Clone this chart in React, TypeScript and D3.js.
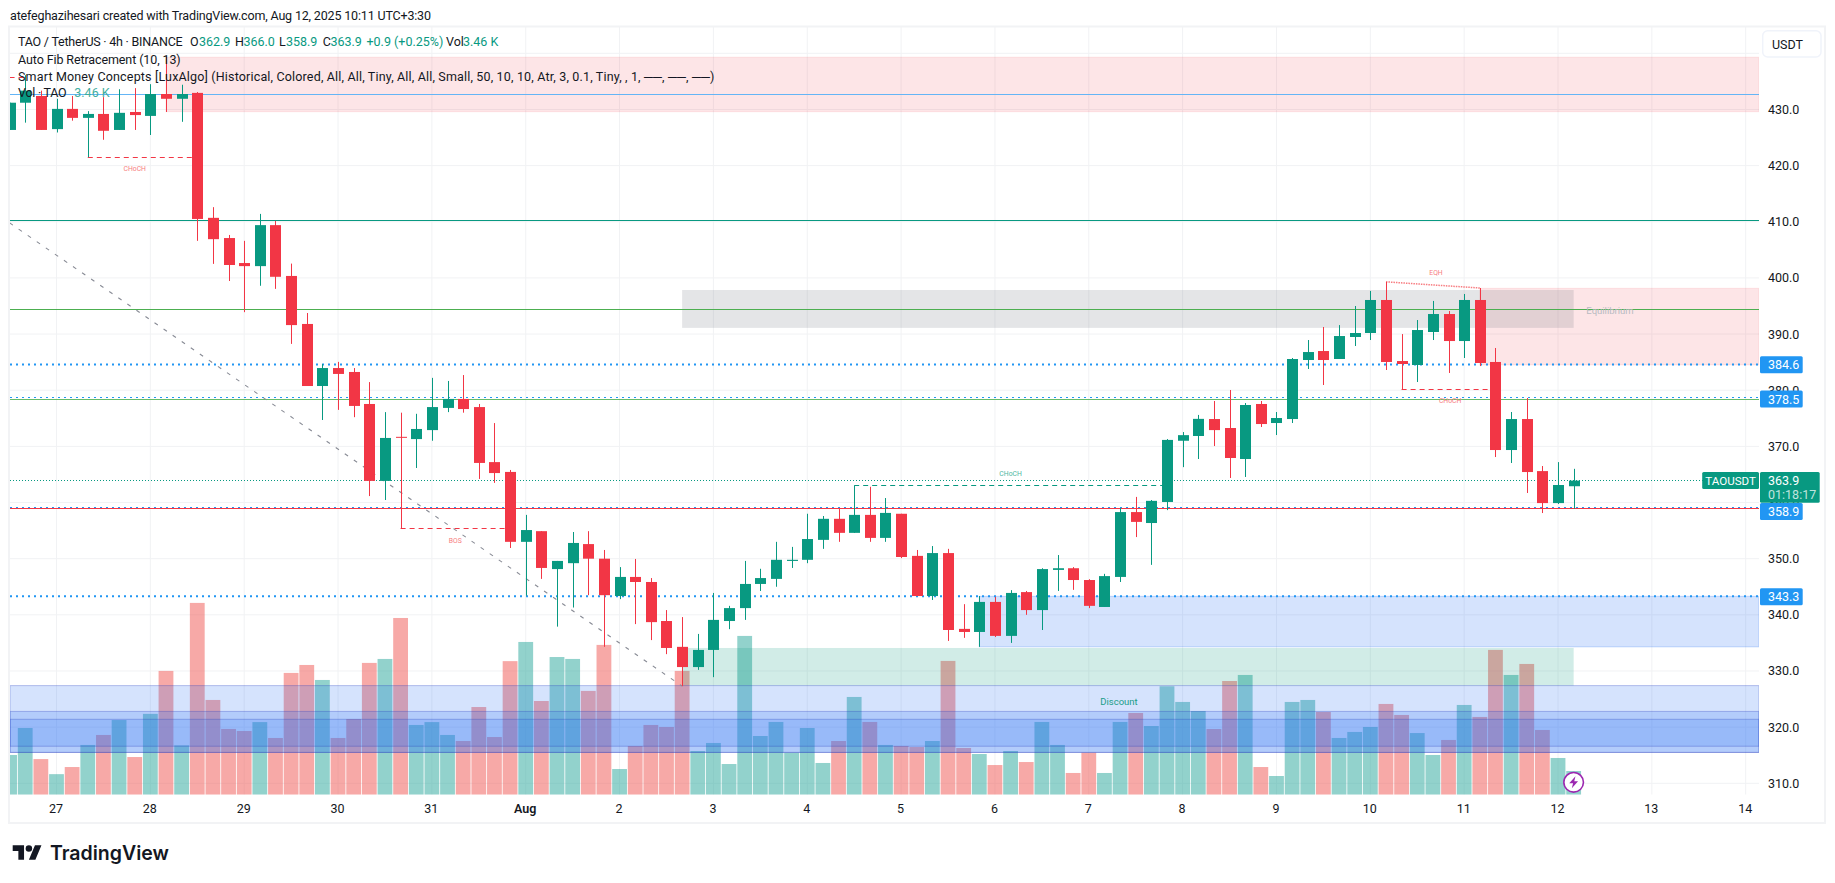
import * as d3 from 'd3'
import React, { useEffect, useRef } from 'react'

// 4h bars, first one is three bars before Jul 27 00:00
const firstBar = -3
const opens = [426.35,431.2,432.4,426.5,430.1,428.5,429.2,426.35,429.55,428.85,432.75,431.9,432.95,410.7,407.1,402.65,402.1,409.4,400.35,391.8,380.75,383.95,383.25,377.55,363.85,371.7,371.3,372.9,376.85,378.45,377,367.2,365.45,353,354.9,348.15,349.2,352.6,350,343.35,346.75,345.85,338.9,334.3,330.7,333.75,338.9,341.2,345.5,346.4,349.6,349.8,353.35,357.1,354.6,357.8,353.7,358,350.5,343.35,351,337.5,336.95,342.3,336.25,344.05,340.85,348,348.3,346.2,341.4,346.75,358.3,356.35,360.1,371,371.85,374.87,373.27,367.75,377.55,374.16,374.87,385.38,386.98,385.56,389.48,390.19,396.07,385.2,384.49,390.37,393.57,388.76,396.07,385.03,369.35,374.87,365.6,359.9,362.9]
const highs = [431.2,436.1,433.35,431.9,432.4,429.7,432.2,433.6,433.8,434.5,439.4,434.4,433.1,412.6,407.65,406.6,411.4,410.15,402.55,393.75,384.65,385.05,383.95,381.45,376.1,376,375.8,382.2,381.65,382.7,377.55,374.15,365.8,357.8,354.9,349.6,354.75,354.9,351.55,348.5,349.95,346.55,340.85,339.6,336.6,343.9,341.6,349.6,348.2,353,352.1,358,357.6,359,363,362.8,360.8,358,351.55,352.25,351.75,341.9,343.35,343.2,344.4,344.25,348.3,350.65,348.5,346.35,347.3,359,361,360.45,371.3,372.55,375.6,378.08,380.04,377.72,378.08,376.12,385.74,388.94,391.26,391.6,395,397.67,399.27,390,392.5,395.9,394.1,397.14,398.2,387.52,376.12,378.61,366.5,367.2,366]
const lows = [426.35,427.65,426.35,425.9,428,421.5,424.6,426.35,426.35,425.45,429.55,427.8,406.6,402.5,399.45,393.9,398.6,398.05,388.25,380.75,374.7,376.5,375.2,361.15,360.45,355.4,366.15,371,376.1,376,364.2,363.5,351.9,343.4,346.4,337.9,341.3,343.5,334.3,342.8,338.35,335.5,333,327.3,330.2,328.9,337.45,339.1,344.25,345,348.35,349.2,351.75,353,354.6,353,353,350.1,343.35,342.65,335.35,335.9,334.3,336.05,335,340,337.3,344.25,344.45,341.2,341.4,345.85,353.85,348.9,358.65,366.3,367.75,370.06,364.37,364.55,373.45,372.02,374.16,383.78,380.93,385.56,387.87,388.94,383.6,380.16,381.46,388.94,383.07,385.74,384.3,368.1,367.04,361.7,358.13,359.73,358.9]
const closes = [431.2,433.35,426.35,430.1,428.5,429.2,426.2,429.4,429,432.75,431.9,432.75,410.5,406.9,402.3,402.1,409.4,400.2,391.6,380.75,383.95,382.9,377.2,363.85,371.5,371.55,373.1,377,378.45,376.65,367.05,365.25,353,355.1,348.35,349.6,352.8,350,343.5,346.75,345.85,338.7,334.1,330.7,333.75,339.1,341.2,345.5,346.55,349.8,349.8,353.5,357.1,354.6,357.8,353.7,358.15,350.3,343.35,351,337.3,336.95,342.3,336.25,343.9,340.85,348.15,348.3,346.2,341.6,346.9,358.3,356.55,360.3,371.15,372,374.9,372.9,367.93,377.37,373.98,375.05,385.56,386.8,385.38,389.65,390.19,396.07,385.03,384.67,390.72,393.57,388.76,396.07,384.85,369.35,374.87,365.43,359.9,363.12,363.9]
const volumes = [5.8,9.74,5.2,3,4.04,7.26,8.72,10.9,5.5,11.8,18.07,7.2,28,13.83,9.6,9.3,10.6,8.28,17.78,18.94,16.75,8.28,11.05,19.24,19.82,25.8,10.18,10.6,8.72,7.84,12.8,8.42,19.5,22.3,13.68,20.1,19.82,15.15,21.87,3.75,7.11,10.18,9.89,18.07,6.38,7.55,4.48,23.18,8.57,10.62,6.14,9.74,4.63,7.84,14.27,10.62,7.26,7.11,6.96,7.84,19.53,6.82,5.94,4.33,6.38,4.77,10.62,7.26,3.17,6.14,3.17,10.62,11.93,10.03,15.83,13.54,12.22,9.59,16.6,17.48,4.04,2.73,13.54,13.83,12.08,8.28,9.16,9.89,13.25,11.64,9,5.8,7.99,13.1,11.35,21.14,17.48,19.09,9.45,5.36,3.46]

const dayLabels = ['27','28','29','30','31','Aug','2','3','4','5','6','7','8','9','10','11','12','13','14']
const priceTicks = [440,430,420,410,400,390,380,370,360,350,340,330,320,310]
const barsPerDay = 6

// [first bar or null for chart edge, last bar or null, top price, bottom price, kind]
const zones: [number | null, number | null, number, number, string][] = [
  [7, null, 439.3, 429.6, 'red'],
  [91, null, 398.15, 384.5, 'red'],
  [59, null, 343.3, 334.3, 'blue'],
  [40, 97, 334.1, 327.4, 'green'],
  [40, 97, 397.85, 391.1, 'gray'],
  [null, null, 327.4, 315.5, 'band'],
  [null, null, 322.8, 315.5, 'band'],
  [null, null, 321.4, 316.6, 'band'],
]
const solidLevels: [number, string][] = [
  [432.7, '#64b5f6'],
  [410.25, '#089981'],
  [394.4, '#4caf50'],
  [378.35, '#66bb6a'],
  [358.85, '#f23645'],
]
const dottedLevels: [number, number][] = [
  [384.6, 2],
  [378.5, 1],
  [358.95, 1],
  [343.3, 2],
]
const lastPrice = 363.9
const priceBadges = [384.6, 378.5, 358.9, 343.3]
const fibLine: [number, number][] = [[-3, 409.8], [40, 327.3]]
// structure breaks: from bar, to bar, price, kind
const structure: [number, number, number, string][] = [
  [-3, -2, 435.65, 'red'],
  [2, 9, 421.5, 'red'],
  [22, 29, 355.4, 'red'],
  [51, 71, 363, 'green'],
  [86, 92, 380.16, 'red'],
]
const structureLabels: [string, number, number, string][] = [
  ['CHoCH', 5, 419.4, 'red'],
  ['BOS', 25.5, 353.1, 'red'],
  ['CHoCH', 61, 365.1, 'green'],
  ['EQH', 88.2, 400.9, 'red'],
  ['CHoCH', 89.1, 378, 'red'],
]
const eqhLine: [number, number][] = [[85, 399.3], [91, 398.2]]

const UP = '#089981'
const DOWN = '#f23645'
const VOL_UP = '#26a69a'
const VOL_DOWN = '#ef5350'
const GRID = '#f1f2f4'
const FONT = 'Roboto, sans-serif'

const App = () => {
  const chartRef = useRef<SVGSVGElement>(null)

  useEffect(() => {
    const svg = d3.select(chartRef.current)
    svg.selectAll('*').remove()

    const left = 10
    const right = 1759
    const top = 27
    const bottom = 794.7

    const x = d3.scaleLinear().domain([0, 108]).range([56.5, 1745.7])
    const y = d3.scaleLinear().domain([440, 310]).range([53.3, 783.3])
    const yVol = d3.scaleLinear().domain([0, 28]).range([bottom, bottom - 28 / 0.146])
    // snap thin horizontal lines to the pixel grid
    const crisp = (p: number) => Math.floor(y(p)) + 0.5

    const rows = d3.range(opens.length).map((i) => ({
      bar: i + firstBar,
      o: opens[i],
      h: highs[i],
      l: lows[i],
      c: closes[i],
      v: volumes[i],
      up: closes[i] >= opens[i],
    }))

    svg.append('rect').attr('width', 1835).attr('height', 883).attr('fill', '#ffffff')
    svg.append('rect').attr('x', 9).attr('y', 26.5).attr('width', 1816).attr('height', 796.5)
      .attr('fill', 'none').attr('stroke', '#f2f3f5').attr('stroke-width', 2)

    svg.append('defs').append('clipPath').attr('id', 'plot').append('rect')
      .attr('x', left).attr('y', top).attr('width', right - left).attr('height', bottom - top)

    const plot = svg.append('g').attr('clip-path', 'url(#plot)')

    // grid
    plot.selectAll('.hgrid').data(priceTicks).enter().append('line')
      .attr('x1', left).attr('x2', right).attr('y1', (d) => y(d)).attr('y2', (d) => y(d))
      .attr('stroke', GRID)
    plot.selectAll('.vgrid').data(dayLabels).enter().append('line')
      .attr('x1', (d, i) => x(i * barsPerDay)).attr('x2', (d, i) => x(i * barsPerDay))
      .attr('y1', top).attr('y2', bottom).attr('stroke', GRID)

    // volume
    plot.selectAll('.vol').data(rows).enter().append('rect')
      .attr('x', (d) => x(d.bar) - 7.4).attr('width', 14.8)
      .attr('y', (d) => yVol(d.v)).attr('height', (d) => bottom - yVol(d.v))
      .attr('fill', (d) => (d.up ? VOL_UP : VOL_DOWN)).attr('fill-opacity', 0.5)

    // zones
    const zoneFill: any = {
      red: 'rgba(242,54,69,0.13)',
      blue: 'rgba(45,115,245,0.2)',
      green: 'rgba(8,153,129,0.19)',
      gray: 'rgba(120,123,134,0.2)',
      band: 'rgba(45,115,245,0.2)',
    }
    const zoneStroke: any = {
      red: 'rgba(242,54,69,0.1)',
      blue: 'rgba(45,115,245,0.25)',
      green: 'none',
      gray: 'none',
      band: 'rgba(41,60,190,0.3)',
    }
    plot.selectAll('.zone').data(zones).enter().append('rect')
      .attr('x', (d) => (d[0] === null ? left : x(d[0])))
      .attr('width', (d) => (d[1] === null ? right : x(d[1])) - (d[0] === null ? left : x(d[0])))
      .attr('y', (d) => y(d[2]))
      .attr('height', (d) => y(d[3]) - y(d[2]))
      .attr('fill', (d) => zoneFill[d[4]])
      .attr('stroke', (d) => zoneStroke[d[4]])

    // horizontal levels
    plot.selectAll('.dotted').data(dottedLevels).enter().append('line')
      .attr('x1', left).attr('x2', right)
      .attr('y1', (d) => (d[1] < 2 ? crisp(d[0]) - 1 : y(d[0]))).attr('y2', (d) => (d[1] < 2 ? crisp(d[0]) - 1 : y(d[0])))
      .attr('stroke', '#2196f3').attr('stroke-width', (d) => d[1])
      .attr('stroke-dasharray', '2 4')
    plot.selectAll('.level').data(solidLevels).enter().append('line')
      .attr('x1', left).attr('x2', right).attr('y1', (d) => crisp(d[0])).attr('y2', (d) => crisp(d[0]))
      .attr('stroke', (d) => d[1]).attr('stroke-width', 1)
    plot.append('line')
      .attr('x1', left).attr('x2', right).attr('y1', crisp(lastPrice)).attr('y2', crisp(lastPrice))
      .attr('stroke', UP).attr('stroke-dasharray', '1 2')

    // fib trend line
    const line = d3.line<[number, number]>().x((d) => x(d[0])).y((d) => y(d[1]))
    plot.append('path').attr('d', line(fibLine)).attr('fill', 'none')
      .attr('stroke', '#888b95').attr('stroke-width', 1.1).attr('stroke-dasharray', '4 7')

    // structure
    plot.selectAll('.struct').data(structure).enter().append('line')
      .attr('x1', (d) => x(d[0])).attr('x2', (d) => x(d[1]))
      .attr('y1', (d) => crisp(d[2])).attr('y2', (d) => crisp(d[2]))
      .attr('stroke', (d) => (d[3] === 'red' ? DOWN : UP)).attr('stroke-dasharray', '5 4')
    plot.append('path').attr('d', line(eqhLine)).attr('fill', 'none')
      .attr('stroke', '#f77c80').attr('stroke-width', 1.5).attr('stroke-dasharray', '1.5 1')
    plot.selectAll('.structLabel').data(structureLabels).enter().append('text')
      .attr('x', (d) => x(d[1])).attr('y', (d) => y(d[2]))
      .attr('text-anchor', 'middle').attr('dominant-baseline', 'central')
      .attr('font-family', FONT).attr('font-size', 6.8)
      .attr('fill', (d) => (d[3] === 'red' ? '#f77c80' : '#4db6a0'))
      .text((d) => d[0])
    plot.append('text').attr('x', 1610).attr('y', 310)
      .attr('text-anchor', 'middle').attr('dominant-baseline', 'central')
      .attr('font-family', FONT).attr('font-size', 9.5).attr('fill', '#b8bbc2').text('Equilibrium')
    plot.append('text').attr('x', 1119).attr('y', 701)
      .attr('text-anchor', 'middle').attr('dominant-baseline', 'central')
      .attr('font-family', FONT).attr('font-size', 9.5).attr('fill', '#1a9d88').text('Discount')

    // candles
    const candles = plot.selectAll('.candle').data(rows).enter().append('g')
    candles.append('line')
      .attr('x1', (d) => Math.round(x(d.bar)) + 0.5).attr('x2', (d) => Math.round(x(d.bar)) + 0.5)
      .attr('y1', (d) => y(d.h)).attr('y2', (d) => y(d.l))
      .attr('stroke', (d) => (d.up ? UP : DOWN))
    candles.append('rect')
      .attr('x', (d) => Math.round(x(d.bar)) - 5).attr('width', 11)
      .attr('y', (d) => y(Math.max(d.o, d.c)))
      .attr('height', (d) => Math.max(1, y(Math.min(d.o, d.c)) - y(Math.max(d.o, d.c))))
      .attr('fill', (d) => (d.up ? UP : DOWN))

    // bolt marker on the last bar
    const bolt = svg.append('g').attr('transform', `translate(${x(97)}, ${y(310) - 1})`)
    bolt.append('circle').attr('r', 9.8).attr('fill', '#ffffff').attr('stroke', '#9c27b0').attr('stroke-width', 1.6)
    bolt.append('path').attr('d', 'M1.8 -6 L-4.4 1 L-0.6 1 L-1.8 6 L4.4 -1 L0.6 -1 Z').attr('fill', '#9c27b0')

    // price axis
    const tickText = svg.append('g').attr('font-family', FONT).attr('font-size', 12.5).attr('fill', '#131722')
    tickText.selectAll('text').data(priceTicks.filter((d) => d !== 440)).enter().append('text')
      .attr('x', 1768).attr('y', (d) => y(d)).attr('dominant-baseline', 'central')
      .text((d) => d3.format('.1f')(d))

    // time axis
    svg.append('g').attr('font-family', FONT).attr('font-size', 12.5).attr('fill', '#131722')
      .selectAll('text').data(dayLabels).enter().append('text')
      .attr('x', (d, i) => x(i * barsPerDay) - 0.5).attr('y', 808.7)
      .attr('text-anchor', 'middle').attr('dominant-baseline', 'central')
      .attr('font-weight', (d) => (d === 'Aug' ? 600 : 400))
      .text((d) => d)

    // USDT button
    svg.append('rect').attr('x', 1762.7).attr('y', 30.7).attr('width', 58.3).attr('height', 26.3).attr('rx', 5)
      .attr('fill', '#ffffff').attr('stroke', '#f0f3fa').attr('stroke-width', 1.5)
    svg.append('text').attr('x', 1772).attr('y', 44.5).attr('dominant-baseline', 'central')
      .attr('font-family', FONT).attr('font-size', 12.5).attr('fill', '#131722').text('USDT')

    // price badges, the 358.9 one is pushed down by the last price box
    const badgeY = (d: number) => (d === 358.9 ? 511.5 : y(d) + 0.4)
    const badges = svg.selectAll('.badge').data(priceBadges).enter().append('g')
    badges.append('rect').attr('x', 1760).attr('width', 42.7).attr('height', 17).attr('rx', 1.5)
      .attr('y', (d) => badgeY(d) - 8.5).attr('fill', '#2196f3')
    badges.append('text').attr('x', 1768).attr('y', (d) => badgeY(d)).attr('dominant-baseline', 'central')
      .attr('font-family', FONT).attr('font-size', 12.5).attr('fill', '#ffffff')
      .text((d) => d3.format('.1f')(d))

    svg.append('rect').attr('x', 1702.2).attr('y', 472).attr('width', 56.8).attr('height', 17).attr('rx', 1.5).attr('fill', UP)
    svg.append('text').attr('x', 1730.6).attr('y', 480.7).attr('text-anchor', 'middle').attr('dominant-baseline', 'central')
      .attr('font-family', FONT).attr('font-size', 11.6).attr('fill', '#ffffff').text('TAOUSDT')
    svg.append('rect').attr('x', 1760).attr('y', 472).attr('width', 59.7).attr('height', 30.7).attr('rx', 1.5).attr('fill', UP)
    svg.append('text').attr('x', 1768).attr('y', 480.7).attr('dominant-baseline', 'central')
      .attr('font-family', FONT).attr('font-size', 12.5).attr('fill', '#ffffff').text(d3.format('.1f')(lastPrice))
    svg.append('text').attr('x', 1768).attr('y', 494.7).attr('dominant-baseline', 'central')
      .attr('font-family', FONT).attr('font-size', 12.5).attr('fill', 'rgba(255,255,255,0.75)').text('01:18:17')

    // header + legend
    const txt = (tx: number, ty: number, s: string, fill = '#131722', len?: number) => {
      const t = svg.append('text').attr('x', tx).attr('y', ty).attr('dominant-baseline', 'central')
        .attr('font-family', FONT).attr('font-size', 12.5).attr('fill', fill).text(s)
      if (len) t.attr('textLength', len).attr('lengthAdjust', 'spacing')
      return t
    }

    txt(10, 15, 'atefeghazihesari created with TradingView.com, Aug 12, 2025 10:11 UTC+3:30', '#131722', 421)
    txt(18, 41.7, 'TAO / TetherUS · 4h · BINANCE', '#131722', 164.7)
    txt(190, 41.7, 'O')
    txt(199, 41.7, '362.9', UP)
    txt(235, 41.7, 'H')
    txt(243.5, 41.7, '366.0', UP)
    txt(279, 41.7, 'L')
    txt(286, 41.7, '358.9', UP)
    txt(322.7, 41.7, 'C')
    txt(330.5, 41.7, '363.9', UP)
    txt(366.5, 41.7, '+0.9 (+0.25%)', UP)
    txt(446, 41.7, 'Vol')
    txt(463, 41.7, '3.46 K', UP)
    txt(18, 59, 'Auto Fib Retracement (10, 13)', '#131722', 162.7)
    txt(18, 76, 'Smart Money Concepts [LuxAlgo] (Historical, Colored, All, All, Tiny, All, All, Small, 50, 10, 10, Atr, 3, 0.1, Tiny, , 1, ──, ──, ──)', '#131722', 696.3)
    txt(18, 92.7, 'Vol · TAO', '#131722', 48.7)
    txt(74.3, 92.7, '3.46 K', '#3fae9f')

    // logo
    const logo = svg.append('g').attr('transform', 'translate(12.7, 842) scale(0.81)').attr('fill', '#131722')
    logo.append('path').attr('d', 'M14 22H7V11H0V4h14v18zM28 22h-8l7.5-18h8L28 22z')
    logo.append('circle').attr('cx', 20).attr('cy', 8).attr('r', 4)
    svg.append('text').attr('x', 50).attr('y', 852.5).attr('dominant-baseline', 'central')
      .attr('font-family', 'Inter, sans-serif').attr('font-size', 20).attr('font-weight', 600).attr('fill', '#131722')
      .attr('textLength', 119).attr('lengthAdjust', 'spacingAndGlyphs').text('TradingView')
  }, [])

  return <svg ref={chartRef} width={1835} height={883} style={{ position: 'absolute', left: 0, top: 0, display: 'block' }}></svg>
}

export default App
